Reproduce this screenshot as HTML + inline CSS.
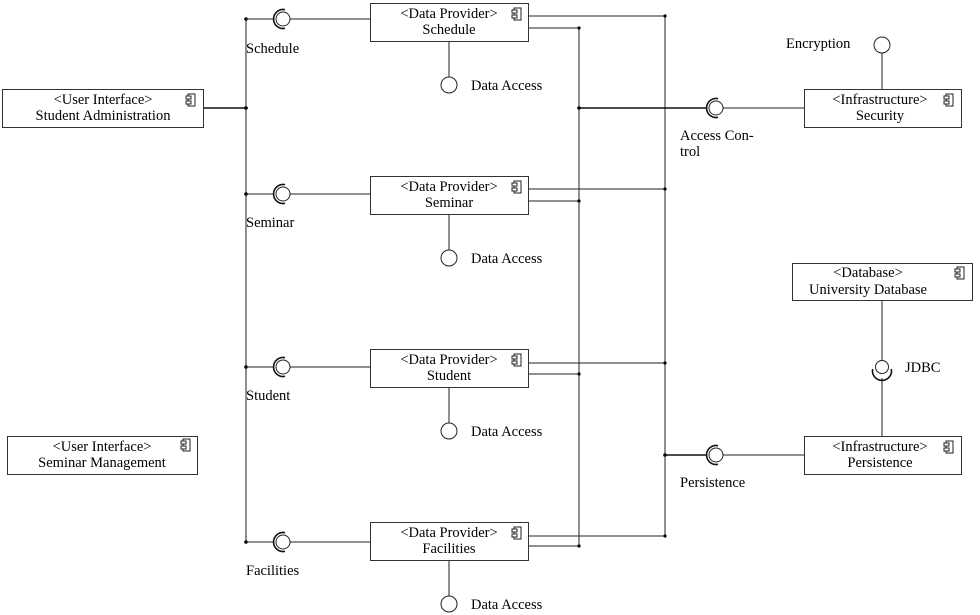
<!DOCTYPE html>
<html><head><meta charset="utf-8"><style>
html,body{margin:0;padding:0;background:#fff}
svg{display:block}
text{font-family:"Liberation Serif",serif;font-size:14.5px;fill:#000}
.b{fill:#fff;stroke:#333;stroke-width:1}
.l{stroke:#222;stroke-width:1;fill:none}
.t{stroke:#111;stroke-width:1.6;fill:none}
.ball{fill:#fff;stroke:#222;stroke-width:1}
</style></head><body>
<svg width="980" height="615" viewBox="0 0 980 615" xmlns="http://www.w3.org/2000/svg">
<defs>
<g id="ic"><rect x="2" y="0" width="7" height="12" fill="#fff" stroke="#222"/><rect x="0" y="2" width="5" height="3" fill="#fff" stroke="#222"/><rect x="0" y="7" width="5" height="3" fill="#fff" stroke="#222"/></g>
<g id="sock"><path d="M2,-9.3 A9.5,9.5 0 1 0 2,9.3" class="t" stroke-width="1.3"/><circle r="7" class="ball"/></g>
</defs>

<!-- left bus -->
<line x1="246" y1="19" x2="246" y2="542" class="l"/>
<line x1="204" y1="108" x2="246" y2="108" class="t"/>
<g fill="#000"><circle cx="246" cy="19" r="1.8"/><circle cx="246" cy="108" r="1.8"/><circle cx="246" cy="194" r="1.8"/><circle cx="246" cy="367" r="1.8"/><circle cx="246" cy="542" r="1.8"/></g>
<g class="l">
<line x1="246" y1="19" x2="274" y2="19"/><line x1="290" y1="19" x2="370" y2="19"/>
<line x1="246" y1="194" x2="274" y2="194"/><line x1="290" y1="194" x2="370" y2="194"/>
<line x1="246" y1="367" x2="274" y2="367"/><line x1="290" y1="367" x2="370" y2="367"/>
<line x1="246" y1="542" x2="274" y2="542"/><line x1="290" y1="542" x2="370" y2="542"/>
</g>
<use href="#sock" x="283" y="19"/><use href="#sock" x="283" y="194"/><use href="#sock" x="283" y="367"/><use href="#sock" x="283" y="542"/>
<text x="246" y="53">Schedule</text>
<text x="246" y="227">Seminar</text>
<text x="246" y="400">Student</text>
<text x="246" y="575">Facilities</text>

<!-- right buses -->
<g class="l">
<line x1="579" y1="28" x2="579" y2="546"/>
<line x1="665" y1="16" x2="665" y2="536"/>
<line x1="528" y1="16" x2="665" y2="16"/><line x1="528" y1="28" x2="579" y2="28"/>
<line x1="528" y1="189" x2="665" y2="189"/><line x1="528" y1="201" x2="579" y2="201"/>
<line x1="528" y1="363" x2="665" y2="363"/><line x1="528" y1="374" x2="579" y2="374"/>
<line x1="528" y1="536" x2="665" y2="536"/><line x1="528" y1="546" x2="579" y2="546"/>
<line x1="723" y1="108" x2="804" y2="108"/>
<line x1="723" y1="455" x2="804" y2="455"/>
<line x1="882" y1="53" x2="882" y2="89"/>
<line x1="882" y1="300" x2="882" y2="361"/>
<line x1="882" y1="378" x2="882" y2="436"/>
</g>
<line x1="579" y1="108" x2="707" y2="108" class="t"/>
<line x1="665" y1="455" x2="707" y2="455" class="t"/>
<g fill="#000"><circle cx="579" cy="28" r="1.6"/><circle cx="665" cy="16" r="1.6"/><circle cx="579" cy="201" r="1.6"/><circle cx="665" cy="189" r="1.6"/><circle cx="579" cy="374" r="1.6"/><circle cx="665" cy="363" r="1.6"/><circle cx="579" cy="546" r="1.6"/><circle cx="665" cy="536" r="1.6"/><circle cx="579" cy="108" r="1.8"/><circle cx="665" cy="455" r="1.8"/></g>
<use href="#sock" x="716" y="108"/><use href="#sock" x="716" y="455"/>
<text x="680" y="140">Access Con-</text><text x="680" y="156">trol</text>
<text x="680" y="487">Persistence</text>
<!-- JDBC socket -->
<path d="M872.7,369 A9.5,9.5 0 1 0 891.3,369" class="t" stroke-width="1.3"/><circle cx="882" cy="367" r="6.5" class="ball"/>
<text x="905" y="372">JDBC</text>
<circle cx="882" cy="45" r="8" class="ball"/>
<text x="786" y="48">Encryption</text>

<!-- data access -->
<g class="l"><line x1="449" y1="41" x2="449" y2="77"/><line x1="449" y1="214" x2="449" y2="250"/><line x1="449" y1="387" x2="449" y2="423"/><line x1="449" y1="560" x2="449" y2="596"/></g>
<circle cx="449" cy="85" r="8" class="ball"/><circle cx="449" cy="258" r="8" class="ball"/><circle cx="449" cy="431" r="8" class="ball"/><circle cx="449" cy="604" r="8" class="ball"/>
<text x="471" y="90">Data Access</text><text x="471" y="263">Data Access</text><text x="471" y="436">Data Access</text><text x="471" y="609">Data Access</text>

<!-- boxes -->
<rect x="2.5" y="89.5" width="201" height="38" class="b"/><use href="#ic" x="186" y="94"/>
<text x="103" y="104" text-anchor="middle">&lt;User Interface&gt;</text><text x="103" y="120" text-anchor="middle">Student Administration</text>

<rect x="7.5" y="436.5" width="190" height="38" class="b"/><use href="#ic" x="181" y="439"/>
<text x="102" y="451" text-anchor="middle">&lt;User Interface&gt;</text><text x="102" y="467" text-anchor="middle">Seminar Management</text>

<rect x="370.5" y="3.5" width="158" height="38" class="b"/><use href="#ic" x="512" y="8"/>
<text x="449" y="18" text-anchor="middle">&lt;Data Provider&gt;</text><text x="449" y="34" text-anchor="middle">Schedule</text>
<rect x="370.5" y="176.5" width="158" height="38" class="b"/><use href="#ic" x="512" y="181"/>
<text x="449" y="191" text-anchor="middle">&lt;Data Provider&gt;</text><text x="449" y="207" text-anchor="middle">Seminar</text>
<rect x="370.5" y="349.5" width="158" height="38" class="b"/><use href="#ic" x="512" y="354"/>
<text x="449" y="364" text-anchor="middle">&lt;Data Provider&gt;</text><text x="449" y="380" text-anchor="middle">Student</text>
<rect x="370.5" y="522.5" width="158" height="38" class="b"/><use href="#ic" x="512" y="527"/>
<text x="449" y="537" text-anchor="middle">&lt;Data Provider&gt;</text><text x="449" y="553" text-anchor="middle">Facilities</text>

<rect x="804.5" y="89.5" width="157" height="38" class="b"/><use href="#ic" x="944" y="94"/>
<text x="880" y="104" text-anchor="middle">&lt;Infrastructure&gt;</text><text x="880" y="120" text-anchor="middle">Security</text>
<rect x="792.5" y="263.5" width="180" height="37" class="b"/><use href="#ic" x="955" y="267"/>
<text x="868" y="277" text-anchor="middle">&lt;Database&gt;</text><text x="868" y="294" text-anchor="middle">University Database</text>
<rect x="804.5" y="436.5" width="157" height="38" class="b"/><use href="#ic" x="944" y="441"/>
<text x="880" y="451" text-anchor="middle">&lt;Infrastructure&gt;</text><text x="880" y="467" text-anchor="middle">Persistence</text>
</svg>
</body></html>
